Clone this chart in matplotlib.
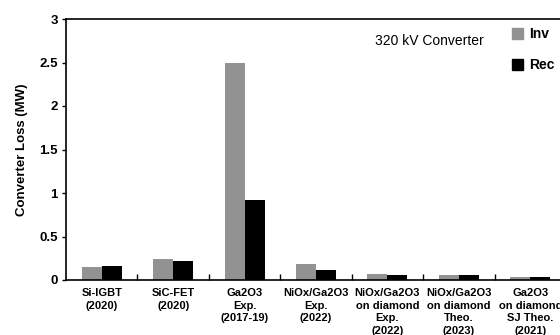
import numpy as np
import matplotlib
matplotlib.use('Agg')
import matplotlib.pyplot as plt
from matplotlib.patches import Patch

plt.rcParams['font.family'] = ['Liberation Sans', 'DejaVu Sans']

categories = ['Si-IGBT\n(2020)', 'SiC-FET\n(2020)', 'Ga2O3\nExp.\n(2017-19)',
              'NiOx/Ga2O3\nExp.\n(2022)', 'NiOx/Ga2O3\non diamond\nExp.\n(2022)',
              'NiOx/Ga2O3\non diamond\nTheo.\n(2023)', 'Ga2O3\non diamond\nSJ Theo.\n(2021)']
inv_loss = [0.145, 0.24, 2.49, 0.18, 0.07, 0.055, 0.035]
rec_loss = [0.165, 0.22, 0.92, 0.115, 0.06, 0.06, 0.035]

INV_COLOR = '#929292'
REC_COLOR = '#000000'

fig = plt.figure(figsize=(5.6, 3.35), dpi=100)
ax = fig.add_axes([66 / 560, 55 / 335, 500 / 560, 261 / 335])

x = np.arange(len(categories))
w = 0.28
ax.bar(x - w / 2, inv_loss, w, color=INV_COLOR)
ax.bar(x + w / 2, rec_loss, w, color=REC_COLOR)

ax.set_xlim(-0.5, len(categories) - 0.5)
ax.set_ylim(0, 3)
ax.set_yticks([0, 0.5, 1, 1.5, 2, 2.5, 3])
ax.set_yticklabels(['0', '0.5', '1', '1.5', '2', '2.5', '3'], fontsize=9.5, fontweight='bold')
ax.set_xticks(x)
ax.set_xticklabels(categories, fontsize=8, fontweight='bold', linespacing=1.3)
ax.tick_params(axis='x', which='major', length=0, pad=6)
ax.set_xticks(np.arange(len(categories) - 1) + 0.5, minor=True)
ax.tick_params(axis='x', which='minor', direction='in', length=4, width=1)
ax.tick_params(axis='y', direction='out', length=3, width=1, pad=3)
ax.set_ylabel('Converter Loss (MW)', fontsize=9.5, fontweight='bold', labelpad=8)

for s in ['left', 'bottom', 'top']:
    ax.spines[s].set_linewidth(1.2)
ax.spines['right'].set_visible(False)

fig.text(375 / 560, 1 - 41 / 335, '320 kV Converter', fontsize=10, va='center', ha='left')

handles = [Patch(color=INV_COLOR, label='Inv'), Patch(color=REC_COLOR, label='Rec')]
fig.legend(handles=handles, loc='upper left', bbox_to_anchor=(499 / 560, 1 - 15 / 335),
           frameon=False, handlelength=0.8, handleheight=0.8, handletextpad=0.5,
           labelspacing=1.2, prop={'weight': 'bold', 'size': 10})

fig.savefig('out.png', dpi=100)
